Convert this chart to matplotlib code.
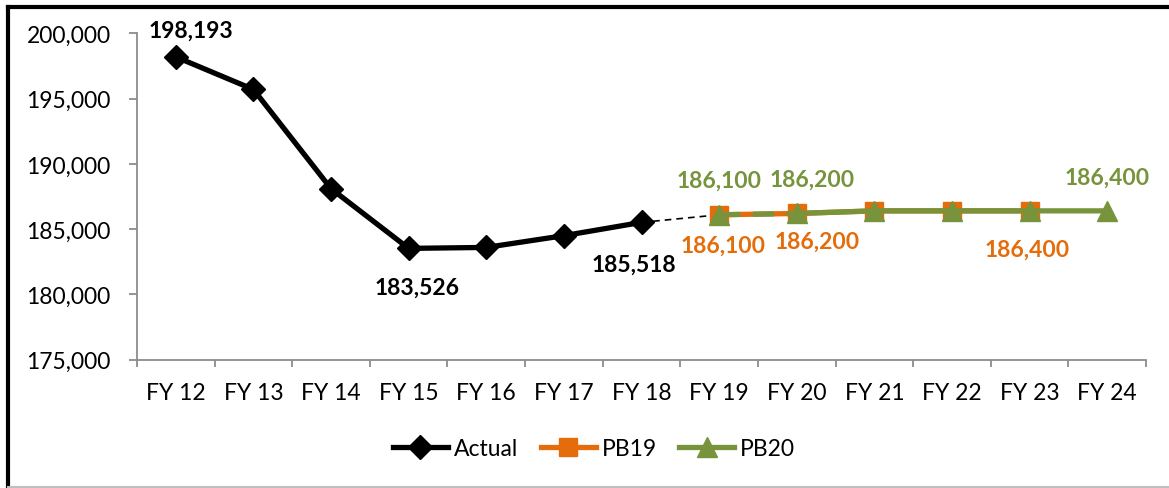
import matplotlib
matplotlib.use("Agg")
import matplotlib.pyplot as plt
from matplotlib.lines import Line2D
from matplotlib.ticker import FuncFormatter

plt.rcParams['font.family'] = ['Lato', 'DejaVu Sans']

categories = ["FY 12", "FY 13", "FY 14", "FY 15", "FY 16", "FY 17", "FY 18",
              "FY 19", "FY 20", "FY 21", "FY 22", "FY 23", "FY 24"]
actual = [198193, 195700, 188100, 183526, 183600, 184500, 185518]
pb19 = [186100, 186200, 186400, 186400, 186400]
pb20 = [186100, 186200, 186400, 186400, 186400, 186400]
yticks = [175000, 180000, 185000, 190000, 195000, 200000]

BLACK = "#000000"
ORANGE = "#E46C0A"
GREEN = "#77933C"
AXIS = "#8C8C8C"

fig = plt.figure(figsize=(11.69, 4.89), dpi=100)
ax = fig.add_axes([137/1169, 1-360.7/489, (1146-137)/1169, (360.7-34.3)/489])

x_act = list(range(len(actual)))
x_pb19 = list(range(7, 7 + len(pb19)))
x_pb20 = list(range(7, 7 + len(pb20)))

# dashed connector from last actual to first projection
ax.plot([x_act[-1], x_pb19[0]], [actual[-1], pb19[0]], color=BLACK, lw=1.2,
        ls=(0, (4, 3)), zorder=2)

ax.plot(x_act, actual, color=BLACK, lw=3.8, marker='D', ms=12, zorder=5)
ax.plot(x_pb19, pb19, color=ORANGE, lw=3.8, marker='s', ms=13.5, zorder=3)
# PB20: first segment dashed, rest solid
ax.plot(x_pb20[:2], pb20[:2], color=GREEN, lw=3.8, ls=(0, (4, 2.4)), zorder=4)
ax.plot(x_pb20[1:], pb20[1:], color=GREEN, lw=3.8, zorder=4)
ax.plot(x_pb20, pb20, color=GREEN, lw=0, marker='^', ms=15, zorder=4)

ax.set_xlim(-0.5, len(categories) - 0.5)
ax.set_ylim(yticks[0], yticks[-1])
ax.set_yticks(yticks)
ax.yaxis.set_major_formatter(FuncFormatter(lambda v, p: f"{int(v):,}"))
ax.set_xticks(range(len(categories)))
ax.set_xticklabels(categories)
ax.set_xticks([i - 0.5 for i in range(len(categories) + 1)], minor=True)

for s in ['top', 'right']:
    ax.spines[s].set_visible(False)
for s in ['left', 'bottom']:
    ax.spines[s].set_color(AXIS)
    ax.spines[s].set_linewidth(1.3)

ax.tick_params(axis='y', which='major', length=6, width=1.3, color=AXIS,
               labelsize=16.5, pad=13)
ax.tick_params(axis='x', which='major', length=0, labelsize=16.5, pad=16)
ax.tick_params(axis='x', which='minor', length=5, width=1.3, color=AXIS)

lab_kw = dict(textcoords='offset points', ha='center', va='center',
              fontsize=16.5, fontweight='bold')
def lab(x, y, dx, dy, color):
    ax.annotate(f"{y:,}", (x, y), xytext=(dx * 0.72, -dy * 0.72), color=color,
                **lab_kw, zorder=10)

lab(x_act[0], actual[0], 15, -27, BLACK)
lab(x_act[3], actual[3], 8, 39, BLACK)
lab(x_act[6], actual[6], -8, 42, BLACK)
lab(x_pb19[0], pb19[0], 4, 30, ORANGE)
lab(x_pb19[1], pb19[1], 20, 28, ORANGE)
lab(x_pb19[4], pb19[4], -2, 38, ORANGE)
lab(x_pb20[0], pb20[0], 0, -35, GREEN)
lab(x_pb20[1], pb20[1], 15, -34, GREEN)
lab(x_pb20[5], pb20[5], 0, -34, GREEN)

handles = [
    Line2D([], [], color=BLACK, lw=3.8, marker='D', ms=12),
    Line2D([], [], color=ORANGE, lw=3.8, marker='s', ms=13.5),
    Line2D([], [], color=GREEN, lw=3.8, marker='^', ms=15),
]
fig.legend(handles, ["Actual", "PB19", "PB20"], loc='center',
           bbox_to_anchor=(594/1169, 1-450/489), ncol=3, frameon=False,
           fontsize=16.5, handlelength=2.4, handletextpad=0.25,
           columnspacing=1.0)

# outer frame
fig.add_artist(Line2D([7.5/1169, 1], [1-7.5/489, 1-7.5/489], color='black',
                      lw=3, transform=fig.transFigure))
fig.add_artist(Line2D([7.5/1169, 7.5/1169], [1-7.5/489, 0], color='black',
                      lw=3, transform=fig.transFigure))
fig.add_artist(Line2D([7.5/1169, 1], [1-488/489, 1-488/489], color='#BFBFBF',
                      lw=1.5, transform=fig.transFigure))

fig.savefig("out.png", dpi=100)
